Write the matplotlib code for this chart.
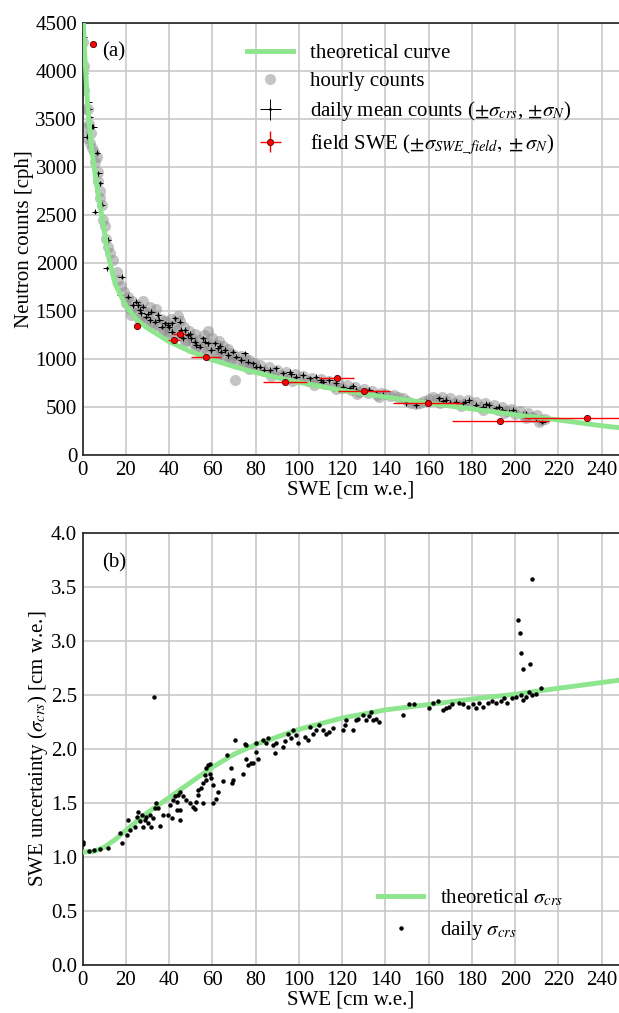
import matplotlib
matplotlib.use("Agg")
import matplotlib.pyplot as plt
import numpy as np

plt.rcParams['font.family'] = ['Liberation Serif', 'DejaVu Serif']
plt.rcParams['mathtext.fontset'] = 'stix'
plt.rcParams['font.size'] = 15

# ---------------- data: panel (a) ----------------
theory_swe = [0, 1, 2, 3, 4, 6, 8, 10, 12, 15, 20, 25, 30, 40, 50, 60, 70, 80, 90, 100,
              120, 140, 160, 180, 200, 220, 240, 250]
theory_counts = [4650, 4150, 3750, 3450, 3220, 2880, 2600, 2330, 2060, 1780, 1550, 1410,
                 1320, 1180, 1075, 990, 920, 860, 805, 757, 672, 605, 540, 480, 420, 365,
                 305, 280]

hourly_swe = [0.3, 0.5, 0.8, 1.0, 1.5, 2.0, 2.5, 3.0, 3.4, 4.0, 4.5, 5.2, 5.7, 6.5, 7.0, 7.2,
              7.8, 8.2, 8.8, 9.5, 10.3, 10.8, 11.5, 12.6, 14.0, 15.7, 16.5, 17.5, 19.0,
              20, 21, 22, 23, 24, 25, 26, 27, 28, 29, 30, 31, 32, 33, 34, 35, 36, 37, 38, 39,
              40, 41, 42, 43, 44, 45, 46, 47, 48, 49, 50, 51, 52, 53, 54, 55, 56, 57, 58, 59,
              60, 61, 62, 63, 64, 65, 66, 67, 68, 69, 70, 70.5, 72, 73, 74, 75, 76, 77, 78, 79,
              80, 82, 84, 86, 88, 90, 92, 94, 96, 98, 100, 102, 104, 106, 108, 110, 112, 114,
              116, 118, 120, 122, 124, 126, 128, 130, 132, 134, 136, 138, 140, 142, 144, 146,
              148, 150, 152, 154, 156, 158, 160, 162, 164, 166, 168, 170, 172, 174, 176, 178,
              180, 182, 184, 186, 188, 190, 192, 194, 196, 198, 200, 202, 204, 206, 208, 210,
              212, 214,
              22.5, 27.5, 32.5, 37.5, 42.5, 47.5, 52.5, 57.5, 62.5, 67.5, 77, 87, 97, 107,
              117, 127, 137, 165, 175, 185, 195, 205, 211]
hourly_counts = [4300, 4050, 3800, 3600, 3400, 3300, 3600, 3450, 3250, 3350, 3200, 3150, 3050,
                 3100, 2950, 2850, 2750, 2680, 2600, 2450, 2380, 2250, 2170, 2100, 2030, 1900,
                 1820, 1760, 1700,
                 1580, 1650, 1520, 1600, 1480, 1560, 1420, 1520, 1600, 1400, 1480, 1540, 1380,
                 1450, 1520, 1350, 1420, 1300, 1400, 1330, 1270, 1420, 1350, 1300, 1450, 1400,
                 1250, 1330, 1200, 1290, 1230, 1170, 1260, 1150, 1200, 1100, 1250, 1180, 1290,
                 1120, 1220, 1060, 1150, 1190, 1080, 1130, 1020, 1100, 1060, 1000, 1040, 781,
                 980, 1030, 950, 1010, 930, 990, 910, 960, 900, 940, 870, 920, 850, 880, 830,
                 860, 800, 840, 790, 820, 770, 800, 760, 790, 740, 770, 720, 760, 700, 730, 680,
                 710, 660, 690, 650, 670, 630, 650, 640, 615, 625, 600, 590, 560, 540, 530, 545,
                 560, 580, 600, 580, 600, 560, 590, 545, 575, 530, 570, 520, 555, 500, 540, 495,
                 520, 470, 500, 455, 480, 430, 460, 410, 440, 395, 420, 360, 380,
                 1460, 1400, 1340, 1280, 1240, 1180, 1120, 1080, 1040, 990, 900, 820, 770,
                 730, 690, 640, 600, 540, 510, 470, 440, 390, 340]

daily_swe = [0.5, 1.1, 1.8, 2.6, 3.0, 3.4, 4.1, 4.9, 6.5, 7.2, 8.0, 8.8, 5.7, 11.1, 11.8, 18.0,
             21.0, 17.2, 23.4, 24.8, 26.4, 27.1, 28.0, 29.5, 31.1, 31.8, 33.4, 34.9, 36.5, 38.0,
             39.5, 41.1, 41.1, 42.6, 44.9, 46.4, 47.2, 48.7, 50.3, 51.8, 52.6, 54.1, 55.7, 58.0,
             59.5, 61.1, 62.6, 64.1, 65.7, 67.2, 69.5, 71.1, 73.4, 74.9, 76.4, 78.7, 80.3, 81.8,
             86.4, 89.5, 92.6, 95.7, 98.8, 101.8, 104.9, 108.0, 111.0, 114.1, 117.2, 120.3,
             123.4, 126.4, 129.5, 132.6, 135.7, 138.7, 149.5, 154.1, 158.8, 164.9, 168.0,
             172.6, 175.7, 178.7, 181.8, 184.9, 188.0, 191.1, 194.1, 197.2, 200.3, 203.4,
             206.4, 209.5, 212.6,
             25.5, 30.0, 35.5, 40.0, 45.5, 49.5, 56.5, 63.5, 84.0, 96.5, 110.0, 125.0, 166.5,
             170.0, 177.0, 186.5, 192.5, 199.0, 205.0]
daily_counts = [4350, 3973, 3313, 3677, 3600, 3521, 3417, 3417, 3147, 2932, 2828, 2602, 2533,
                1943, 2238, 1856, 1648, 1665, 1561, 1596, 1509, 1475, 1544, 1440, 1405, 1492,
                1388, 1457, 1336, 1371, 1353, 1371, 1284, 1423, 1388, 1214, 1301, 1249, 1214,
                1180, 1145, 1128, 1214, 1163, 1093, 1163, 1110, 1075, 1093, 1041, 1075, 1023,
                989, 1058, 971, 955, 919, 919, 885, 902, 850, 867, 815, 833, 798, 815, 763, 781,
                746, 711, 694, 677, 659, 677, 642, 625, 538, 520, 555, 590, 573, 555, 538, 573,
                520, 503, 520, 486, 468, 451, 434, 416, 399, 382, 347,
                1560, 1470, 1410, 1330, 1300, 1260, 1180, 1140, 890, 840, 780, 720, 560,
                540, 555, 530, 500, 470, 430]
daily_xerr = 1.5
daily_yerr = 28

field_swe = [4.6, 24.9, 42.1, 44.9, 57.2, 93.7, 117.5, 130.0, 159.5, 193.1, 233.1]
field_counts = [4278, 1346, 1197, 1260, 1023, 757, 798, 666, 541, 350, 382]
field_swe_err = [0.8, 1.0, 2.7, 3.1, 6.9, 10.2, 8.1, 11.9, 16.0, 22.5, 28.9]
field_count_err = [20, 20, 20, 20, 20, 20, 20, 20, 20, 20, 20]

# ---------------- data: panel (b) ----------------
sigma_theory_swe = [0, 5, 10, 15, 20, 25, 30, 40, 50, 60, 70, 80, 90, 100, 120, 140, 160, 180,
                    200, 220, 250]
sigma_theory = [1.045, 1.05, 1.09, 1.16, 1.245, 1.33, 1.41, 1.55, 1.69, 1.83, 1.95, 2.04, 2.11,
                2.18, 2.285, 2.36, 2.41, 2.46, 2.505, 2.56, 2.64]

sigma_swe = [0.0, 0.3, 3, 5, 8, 11.8, 17.2, 18.0, 20.3, 21.0, 21.8, 24.1, 24.9, 25.7, 26.4, 27.2,
             28.0, 28.8, 29.5, 30.3, 31.1, 31.8, 32.6, 33.4, 35.7, 37.2, 39.5, 41.5, 44.9,
             33.8, 34.7, 40.6, 41.8, 42.6, 43.4, 44.1, 44.9, 43.4, 44.9, 46.4, 48.0, 49.5,
             51.0, 51.8, 52.6, 53.4, 53.4, 54.9, 55.7, 56.4, 57.2, 58.0, 58.8, 59.5, 60.3,
             57.2, 58.8, 60.3, 61.8, 62.6, 64.9, 66.5, 68.8, 69.5, 70.3, 74.1, 74.9, 75.7,
             76.4, 78.0, 80.3, 81.0, 84.9, 88.8, 89.5, 55.7, 69.2, 75.7, 78.7, 80.3, 83.4,
             85.7, 88.0, 92.6, 93.4, 94.9, 96.5, 97.2, 98.8, 99.5, 102.6, 104.1, 104.9, 106.4,
             108.0, 109.5, 111.0, 112.6, 114.1, 115.7, 120.3, 121.1, 121.8, 124.9, 126.4,
             127.2, 129.5, 131.0, 132.6, 134.1, 133.4, 135.7, 137.2, 148.0, 151.1, 153.4,
             160.3, 161.8, 164.1, 166.4, 168.0, 169.5, 171.0, 174.1, 175.7, 178.0, 180.3,
             181.8, 183.4, 184.9, 187.2, 189.5, 191.1, 193.4, 194.9, 196.4, 198.7, 200.3,
             202.6, 203.4, 204.9, 206.4, 208.0, 209.5, 211.8, 201.5, 202.1, 202.6, 203.7,
             206.8, 207.7, 32.9]
sigma_daily = [1.14, 1.12, 1.05, 1.06, 1.07, 1.08, 1.22, 1.13, 1.20, 1.34, 1.25, 1.28, 1.37,
               1.42, 1.33, 1.39, 1.28, 1.34, 1.37, 1.31, 1.39, 1.28, 1.36, 1.45, 1.29, 1.39,
               1.39, 1.36, 1.34, 1.50, 1.45, 1.48, 1.53, 1.56, 1.51, 1.57, 1.60, 1.43, 1.43,
               1.56, 1.53, 1.50, 1.46, 1.44, 1.51, 1.57, 1.62, 1.635, 1.68, 1.76, 1.82, 1.85,
               1.77, 1.73, 1.665, 1.71, 1.86, 1.50, 1.54, 1.60, 1.70, 1.94, 1.82, 1.71, 2.08,
               1.77, 2.04, 1.91, 1.85, 1.87, 1.97, 1.91, 2.05, 1.96, 2.05, 1.50, 1.68, 2.035,
               1.87, 2.05, 2.08, 2.10, 2.035, 2.02, 2.07, 2.14, 2.10, 2.17, 2.13, 2.05, 2.11,
               2.08, 2.205, 2.14, 2.17, 2.22, 2.17, 2.14, 2.16, 2.19, 2.17, 2.22, 2.27, 2.17,
               2.27, 2.28, 2.31, 2.27, 2.30, 2.27, 2.34, 2.28, 2.25, 2.31, 2.41, 2.41, 2.375,
               2.42, 2.44, 2.36, 2.375, 2.39, 2.41, 2.42, 2.41, 2.39, 2.41, 2.375, 2.42, 2.39,
               2.42, 2.44, 2.42, 2.44, 2.47, 2.42, 2.47, 2.48, 2.50, 2.45, 2.48, 2.53, 2.50,
               2.51, 2.56, 3.19, 3.07, 2.89, 2.74, 2.785, 3.57, 2.48]

x_ticks = list(range(0, 241, 20))
counts_ticks = list(range(0, 4501, 500))
sigma_ticks = [0.0, 0.5, 1.0, 1.5, 2.0, 2.5, 3.0, 3.5, 4.0]

# ---------------- figure ----------------
fig = plt.figure(figsize=(6.19, 10.13), dpi=100)
ax1 = fig.add_axes([0.1336, 0.5508, 0.8664, 0.4268])
ax2 = fig.add_axes([0.1336, 0.0474, 0.8664, 0.4268])

green = '#8de58d'
grid_kw = dict(color='#c8c8c8', linewidth=1.2, linestyle='-')

for ax in (ax1, ax2):
    ax.set_axisbelow(True)
    ax.grid(True, **grid_kw)
    ax.tick_params(length=0, pad=4, labelsize=15)
    ax.spines['right'].set_visible(False)
    for s in ('left', 'bottom', 'top'):
        ax.spines[s].set_color('#222222')
        ax.spines[s].set_linewidth(1.2)
    ax.set_xlim(0, 248)
    ax.set_xticks(x_ticks)
    ax.set_xlabel('SWE [cm w.e.]', fontsize=15, labelpad=1)

# panel (a)
h_hourly, = ax1.plot(hourly_swe, hourly_counts, 'o', color='#8a8a8a', alpha=0.5, ms=8,
                     mec='none', zorder=2)
h_daily = ax1.errorbar(daily_swe, daily_counts, xerr=daily_xerr, yerr=daily_yerr, fmt='.',
                       ms=2, color='k', ecolor='k', elinewidth=0.7, capsize=0, zorder=3)
h_theory, = ax1.plot(theory_swe, theory_counts, '-', color=green, lw=3.5, zorder=4)
h_field = ax1.errorbar(field_swe, field_counts, xerr=field_swe_err, yerr=field_count_err,
                       fmt='o', ms=4.5, color='red', mfc='red', mec='#550000', mew=0.6,
                       ecolor='red', elinewidth=1.0, capsize=0, zorder=5)
ax1.set_ylim(0, 4500)
ax1.set_yticks(counts_ticks)
ax1.set_ylabel('Neutron counts [cph]', fontsize=15, labelpad=1)
ax1.text(9, 4200, '(a)', fontsize=15, va='center', ha='left')
ax1.legend([h_theory, h_hourly, h_daily, h_field],
           ['theoretical curve', 'hourly counts',
            r'daily mean counts ($\pm\sigma_{crs}$, $\pm\sigma_N$)',
            r'field SWE ($\pm\sigma_{SWE\_field}, \pm\sigma_N$)'],
           loc='upper left', bbox_to_anchor=(0.272, 0.995), frameon=False, fontsize=15,
           handlelength=2.2, handletextpad=0.8, labelspacing=0.4, numpoints=1)

# panel (b)
ax2.plot(sigma_theory_swe, sigma_theory, '-', color=green, lw=3.5, zorder=3,
         label=r'theoretical $\sigma_{crs}$')
ax2.plot(sigma_swe, sigma_daily, 'o', color='k', ms=3.2, mec='none', zorder=4,
         label=r'daily $\sigma_{crs}$')
ax2.set_ylim(0, 4.0)
ax2.set_yticks(sigma_ticks)
ax2.set_ylabel(r'SWE uncertainty ($\sigma_{crs}$) [cm w.e.]', fontsize=15, labelpad=1)
ax2.text(9, 3.72, '(b)', fontsize=15, va='center', ha='left')
ax2.legend(loc='lower left', bbox_to_anchor=(0.515, 0.01), frameon=False, fontsize=15,
           handlelength=2.2, handletextpad=0.8, labelspacing=0.5, numpoints=1)

fig.savefig('out.png', dpi=100)
